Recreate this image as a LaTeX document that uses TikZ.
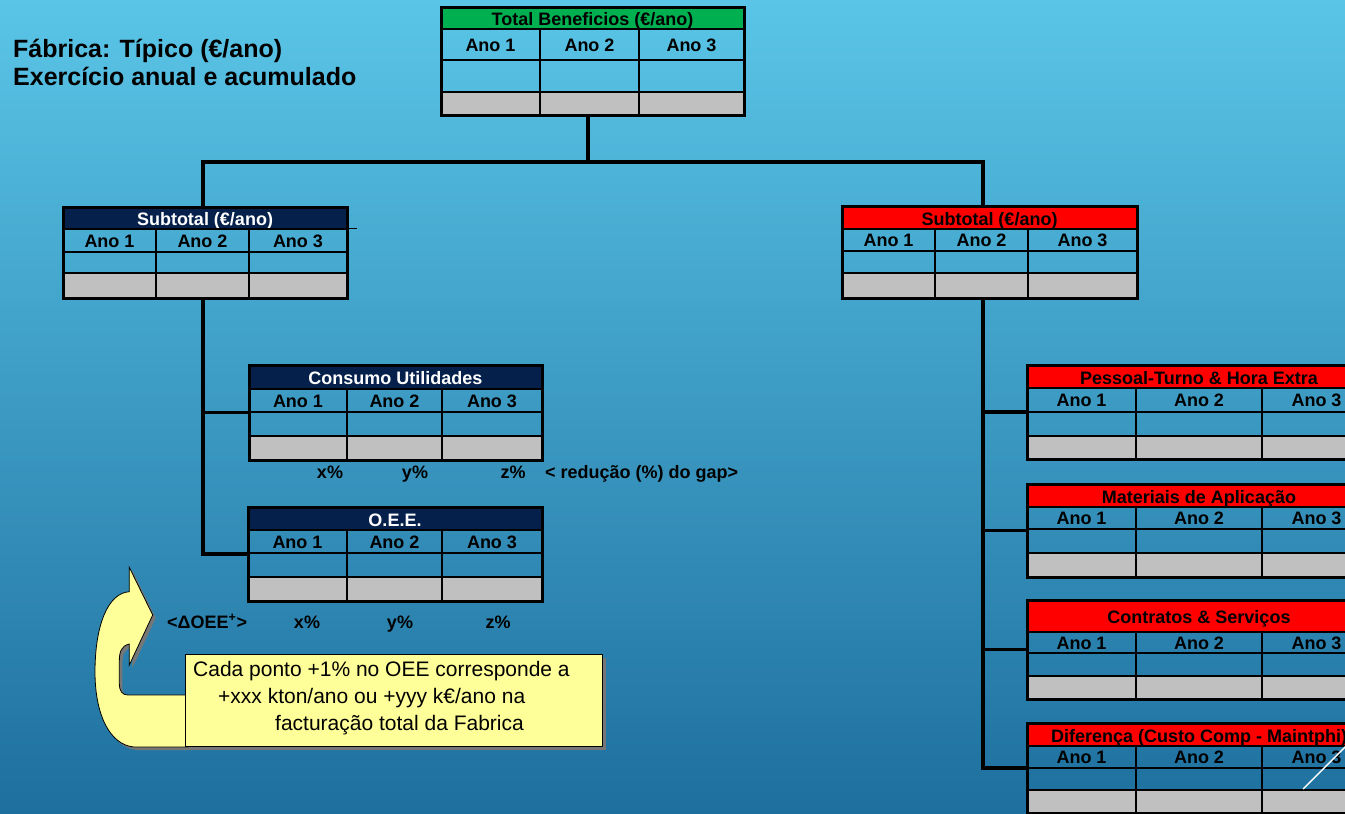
\documentclass[tikz,border=0pt]{standalone}
\usepackage{fontspec}
\setmainfont{Liberation Sans}
\usetikzlibrary{fit,calc}
\definecolor{bgtop}{RGB}{90,197,231}
\definecolor{bgbot}{RGB}{30,111,158}
\definecolor{hgreen}{RGB}{0,176,80}
\definecolor{hnavy}{RGB}{5,33,75}
\definecolor{hred}{RGB}{255,0,0}
\definecolor{cgray}{RGB}{192,192,192}
\definecolor{noteyel}{RGB}{255,255,153}
\definecolor{shgray}{RGB}{118,118,118}

\newcommand\tabfont{\fontsize{18}{21}\selectfont\bfseries}

\tikzset{
 tbl/.style={inner sep=0pt, draw=none},
 outerline/.style={draw=black, line width=3pt},
 innerline/.style={draw=black, line width=2.4pt},
 hdrtext/.style={anchor=base, inner sep=0pt, font=\tabfont},
 anotext/.style={anchor=base, inner sep=0pt, font=\tabfont, text=black},
 conn/.style={draw=black, line width=3.5pt},
 lbl/.style={anchor=base, inner sep=0pt, font=\tabfont, text=black},
 lblw/.style={anchor=base west, inner sep=0pt, font=\tabfont, text=black},
 notetxt/.style={anchor=base west, inner sep=0pt, font=\fontsize{21}{27}\selectfont, text=black},
 titletxt/.style={anchor=base west, inner sep=0pt, font=\fontsize{25}{28}\selectfont\bfseries, text=black},
}

\newcommand\hdr[2]{\tikzset{hdrfill/.style={fill=#1}, hdrcolor/.style={text=#2}}}
\newcommand\cols[2]{\def\cA{#1}\def\cB{#2}}

% name, xl, xr, ytop, yheader, yano, yempty, ybottom, title
\newcommand\mktable[9]{%
 \node[tbl, fit={(#2,#4) (#3,#8)}] (#1) {};
 \fill[cgray] (#2,#7) rectangle (#3,#8);
 \fill[hdrfill] (#2,#4) rectangle (#3,#5);
 \node[hdrtext, hdrcolor] (#1-t) at ({(#2+#3)/2},{(#4+#5)/2+7.5}) {#9};
 \node[anotext] (#1-a1) at ({(#2+\cA)/2},{(#5+#6)/2+6.5}) {Ano 1};
 \node[anotext] (#1-a2) at ({(\cA+\cB)/2},{(#5+#6)/2+6.5}) {Ano 2};
 \node[anotext] (#1-a3) at ({(\cB+#3)/2},{(#5+#6)/2+6.5}) {Ano 3};
 \draw[innerline] (#2,#5) -- (#3,#5) (#2,#6) -- (#3,#6) (#2,#7) -- (#3,#7)
   (\cA,#5) -- (\cA,#8) (\cB,#5) -- (\cB,#8);
 \draw[outerline] (#2,#4) rectangle (#3,#8);
}

\begin{document}
\begin{tikzpicture}[x=1pt,y=-1pt]
\useasboundingbox (0,0) rectangle (1345,814);
\clip (0,0) rectangle (1345,814);
\shade[top color=bgtop, bottom color=bgbot] (0,0) rectangle (1345,814);

% titles
\node[titletxt] (title1) at (13,57) {Fábrica: Típico (€/ano)};
\node[titletxt] (title2) at (13,85) {Exercício anual e acumulado};

% tables
\hdr{hgreen}{black}\cols{540}{639}
\mktable{top}{441}{744}{7}{29}{60}{92}{115}{Total Beneficios (€/ano)}

\hdr{hnavy}{white}\cols{156}{249}
\mktable{sub1}{63}{347}{207}{229}{252}{273}{298}{Subtotal (€/ano)}
\draw[black, line width=1pt] (sub1.north east |- 0,228) -- (357,228);

\hdr{hred}{black}\cols{935}{1028}
\mktable{sub2}{842}{1137}{206}{229}{251}{273}{298}{Subtotal (€/ano)}

\hdr{hnavy}{white}\cols{347}{442}
\mktable{cons}{249}{542}{365}{389}{412}{436}{460}{Consumo Utilidades}
\mktable{oee}{248}{542}{507}{530}{553}{577}{601}{O.E.E.}

\hdr{hred}{black}\cols{1136}{1262}
\mktable{pes}{1027}{1371}{365}{388}{412}{436}{459}{Pessoal-Turno \& Hora Extra}
\mktable{mat}{1027}{1371}{484}{507}{529}{553}{577}{Materiais de Aplicação}
\mktable{con}{1027}{1371}{600}{632}{653}{676}{699}{Contratos \& Serviços}
\mktable{dif}{1027}{1371}{723}{746}{768}{790}{813}{Diferença (Custo Comp - Maintphi)}
\draw[white, line width=1.4pt] (1303,789) -- (1353,739);

% connectors
\coordinate (topc) at ($(top.south west)!0.485!(top.south east)$);
\coordinate (sub1in) at ($(sub1.north west)!0.493!(sub1.north east)$);
\coordinate (sub1out) at ($(sub1.south west)!0.493!(sub1.south east)$);
\coordinate (sub2in) at ($(sub2.north west)!0.478!(sub2.north east)$);
\coordinate (sub2out) at ($(sub2.south west)!0.478!(sub2.south east)$);
\draw[conn] (topc) -- ++(0,47) coordinate (jn);
\draw[conn] (sub1in) |- (jn) -| (sub2in);
\draw[conn] (sub1out) |- (cons.west);
\draw[conn] (sub1out) |- (oee.west);
\draw[conn] (sub2out) |- (pes.west);
\draw[conn] (sub2out) |- (mat.west);
\draw[conn] (sub2out) |- (con.west);
\draw[conn] (sub2out) |- (dif.west);

% labels
\node[lbl] (cx) at (330,478) {x\%};
\node[lbl] (cy) at (415,478) {y\%};
\node[lbl] (cz) at (513,478) {z\%};
\node[lblw] (cgap) at (545,478) {< redução (\%) do gap>};
\node[lblw] (doee) at (167,628) {<ΔOEE\textsuperscript{+}>};
\node[lbl] (ox) at (307,628) {x\%};
\node[lbl] (oy) at (400,628) {y\%};
\node[lbl] (oz) at (498,628) {z\%};

% curved arrow
\def\arrowpath{(129.3,567.3) -- (152.7,615) -- (129.3,665) -- (129.3,644)
  .. controls (121,646) and (119.3,652) .. (119.3,662) -- (119.3,683)
  .. controls (119.3,691) and (122,695) .. (128,695) -- (188,695) -- (188,747) -- (134,747)
  .. controls (110,745) and (95,715) .. (95,672)
  .. controls (95,625) and (108,593) .. (129.3,591.7) -- cycle}
\begin{scope}[shift={(3,3)}]
\fill[shgray] \arrowpath;
\end{scope}
\filldraw[fill=noteyel, draw=black, line width=0.8pt] \arrowpath;

% note box
\fill[shgray] (189,658) rectangle (606,750);
\node[draw=black, fill=noteyel, line width=0.8pt, inner sep=0pt, fit={(185,654) (602,746)}] (note) {};
\node[notetxt] (n1) at (193,676) {Cada ponto +1\% no OEE corresponde a};
\node[notetxt] (n2) at (218,703) {+xxx kton/ano ou +yyy k€/ano na};
\node[notetxt] (n3) at (275,730) {facturação total da Fabrica};
\end{tikzpicture}
\end{document}
